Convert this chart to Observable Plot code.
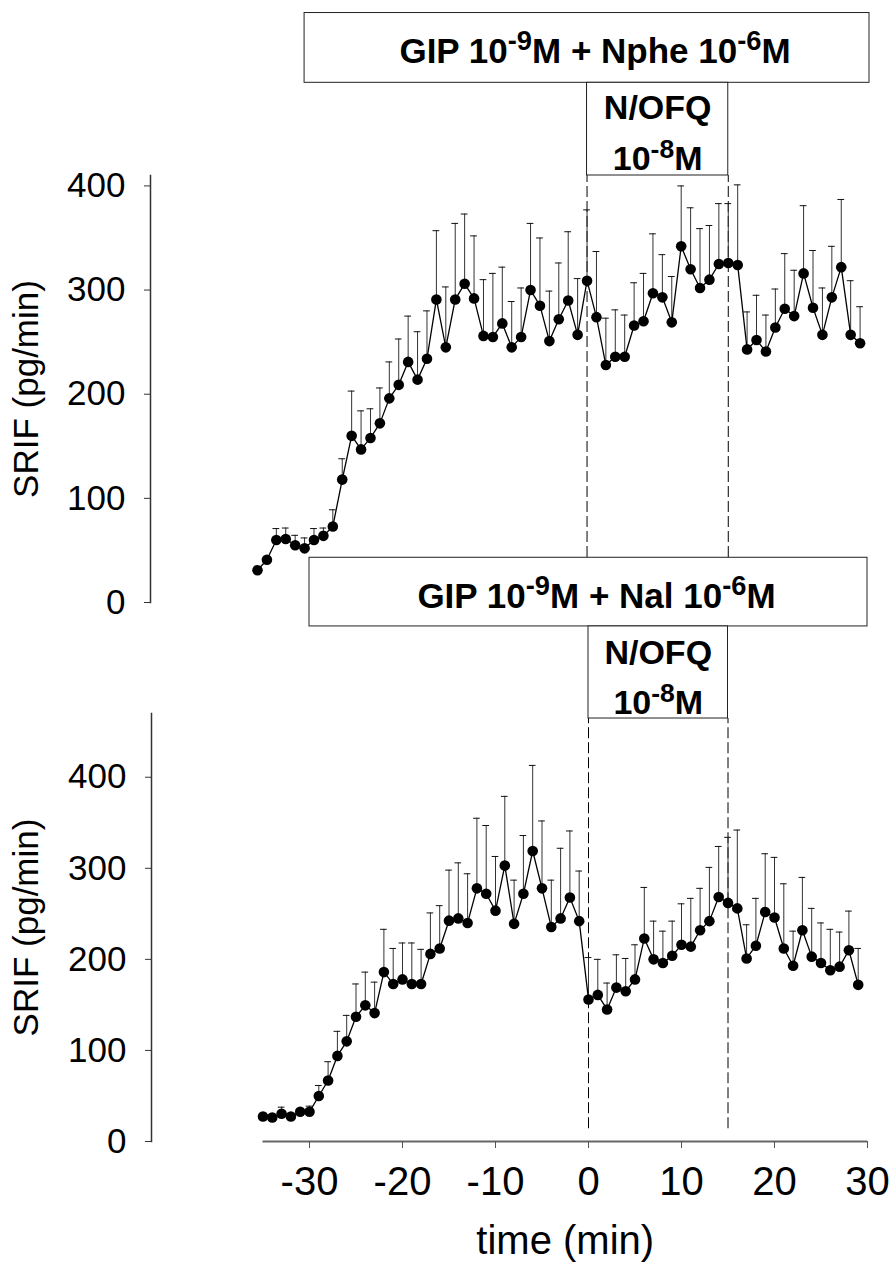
<!DOCTYPE html>
<html><head><meta charset="utf-8">
<script src="https://cdn.jsdelivr.net/npm/d3@7"></script>
<script src="https://cdn.jsdelivr.net/npm/@observablehq/plot@0.6"></script>
<style>
body{margin:0;background:#fff;}
#chart{position:relative;width:893px;height:1275px;}
#chart svg{position:absolute;left:0;top:0;background:transparent;overflow:visible;}
</style></head><body><div id="chart"></div>
<script>
// ---- data ----
const times = [-35,-34,-33,-32,-31,-30,-29,-28,-27,-26,-25,-24,-23,-22,-21,-20,-19,-18,-17,-16,-15,-14,-13,-12,-11,-10,-9,-8,-7,-6,-5,-4,-3,-2,-1,0,1,2,3,4,5,6,7,8,9,10,11,12,13,14,15,16,17,18,19,20,21,22,23,24,25,26,27,28,29];
const nphMean = [31,41,60,61,55,52,60,64,73,118,160,147,158,172,196,209,231,214,234,291,245,291,306,292,256,255,268,245,255,300,285,251,272,290,257,309,274,228,236,236,266,270,297,293,269,342,320,302,310,325,326,324,243,252,241,264,282,275,316,283,257,293,322,257,249];
const nphUpper = [33,43,71,71.5,64.5,62,71,71.5,89,138,203,184,186,206,231,253,275,260,280,357,303,364,373,352,310,316,322,289,302,364,350,299,326,356,311,377,337,273,281,276,307,316,354,334,313,400,379,359,362,383,383,401,279,295,276,301,335,319,381,338,302,342,387,309,284];
const nalMean = [27.5,26.4,30.4,27.5,32.6,32.6,50,67,94,110,137,149.5,141,186,173,178,173,173,206,212,242.5,245,240,278,272,253.5,303,239,272,319,278,235.5,245,268,242,156,161,145,169,165,178,223,200,196,204,216,214,232,242,268.5,262,256,201,215,252,246,212,193,232,203,196,188,192,210,172];
const nalUpper = [29,28,37.7,29.5,35,38.8,61.5,87.6,121,138.5,173,186,175,233,212,218,218,211,251,259,298,306,294,355,347,313,379,287,336,413,352,287,322,341,297,202,200,174,205,201,216,279,242,231,242,261,267,278,301,324,334,342,238,267,316,312,283,231,290,256,240,233,230,253,212];
const yTicks = [0,100,200,300,400];
const xTicks = [-30,-20,-10,0,10,20,30];
const gipPeriod = [-30, 30];
const nofqPeriod = [0, 15];
const panelTitles = ["GIP 10{-9}M + Nphe 10{-6}M", "GIP 10{-9}M + Nal 10{-6}M"];
const nofqLines = ["N/OFQ", "10{-8}M"];
const yLabel = "SRIF (pg/min)";
const xLabel = "time (min)";

const FONT = "'Liberation Sans', Arial, Helvetica, sans-serif";

function panel(cfg) {
  const data = times.map((t, i) => ({t, mean: cfg.mean[i], upper: cfg.upper[i]}));
  const mid = (nofqPeriod[0] + nofqPeriod[1]) / 2;
  const gipMid = (gipPeriod[0] + gipPeriod[1]) / 2;
  const boxes = [
    {x1: gipPeriod[0], x2: gipPeriod[1], y1: cfg.titleBox[0], y2: cfg.titleBox[1]},
    {x1: nofqPeriod[0], x2: nofqPeriod[1], y1: cfg.nofqBox[0], y2: cfg.nofqBox[1]}
  ];
  const marks = [
    Plot.ruleX(nofqPeriod, {y1: cfg.dash[0], y2: cfg.dash[1], stroke: "#000", strokeWidth: 1, strokeDasharray: "11,4"}),
    Plot.rect(boxes, {x1: "x1", x2: "x2", y1: "y1", y2: "y2", fill: "white", stroke: "#222", strokeWidth: 1}),
    Plot.text([{t: gipMid, y: cfg.textY[0], s: cfg.title}], {x: "t", y: "y", text: "s", fontSize: 35, fontWeight: "bold", dx: 8, fill: "#000"}),
    Plot.text([{t: mid, y: cfg.textY[1], s: nofqLines[0]}, {t: mid, y: cfg.textY[2], s: nofqLines[1]}], {x: "t", y: "y", text: "s", fontSize: 34, fontWeight: "bold", fill: "#000"}),
    Plot.ruleX(data, {x: "t", y1: "mean", y2: "upper", stroke: "#333", strokeWidth: 1}),
    Plot.ruleY(data, {y: "upper", x1: d => d.t - 0.36, x2: d => d.t + 0.36, stroke: "#111", strokeWidth: 1}),
    Plot.line(data, {x: "t", y: "mean", stroke: "#000", strokeWidth: 1.3}),
    Plot.dot(data, {x: "t", y: "mean", r: 5.3, fill: "#000", stroke: "none"}),
    Plot.frame({anchor: "left", stroke: "#333", strokeWidth: 1.5}),
    Plot.axisY({ticks: yTicks, tickSize: 6, tickPadding: 19, fontSize: 35, stroke: "#333", fill: "#000",
      label: yLabel, labelAnchor: "center", labelOffset: cfg.labelOffset, labelArrow: "none", tickFormat: d => String(d)})
  ];
  if (cfg.showX) {
    marks.push(
      Plot.ruleY([0], {x1: times[0], x2: xTicks[xTicks.length - 1], stroke: "#666", strokeWidth: 2}),
      Plot.axisX({ticks: xTicks, tickSize: 7, tickPadding: 18, fontSize: 40, stroke: "#555", fill: "#000", label: null, tickFormat: d => String(d)}),
      Plot.text([{t: (times[0] + xTicks[xTicks.length - 1]) / 2, s: xLabel}], {x: "t", text: "s", frameAnchor: "bottom", dy: 112, fontSize: 40, fill: "#000"})
    );
  }
  const svg = Plot.plot({
    width: 893, height: 1275,
    marginTop: cfg.marginTop, marginBottom: cfg.marginBottom,
    marginLeft: cfg.marginLeft, marginRight: cfg.marginRight,
    style: {fontFamily: FONT, background: "transparent"},
    x: {domain: [times[0], xTicks[xTicks.length - 1]], range: cfg.xRange, axis: cfg.showX ? undefined : null},
    y: {domain: cfg.yDomain},
    marks
  });
  svg.style.background = "transparent";
  return svg;
}

function applySuperscripts(svg) {
  svg.querySelectorAll("text").forEach(t => {
    if (t.childElementCount || !t.textContent.includes("{")) return;
    const parts = t.textContent.split(/(\{[^}]*\})/).filter(s => s);
    t.textContent = "";
    let raised = false;
    for (const p of parts) {
      const ts = document.createElementNS("http://www.w3.org/2000/svg", "tspan");
      if (p.startsWith("{")) {
        ts.textContent = p.slice(1, -1);
        ts.style.fontSize = "78%";
        ts.setAttribute("dy", "-0.45em");
        raised = true;
      } else {
        ts.textContent = p;
        if (raised) ts.setAttribute("dy", "0.35em");
        raised = false;
      }
      t.appendChild(ts);
    }
  });
}

const topPanel = panel({
  mean: nphMean, upper: nphUpper, title: panelTitles[0],
  marginTop: 175, marginBottom: 673, marginLeft: 150, marginRight: 24,
  xRange: [257, 869], yDomain: [0, 410],
  titleBox: [499, 566], nofqBox: [410, 499], textY: [529, 475, 426],
  dash: [0, 410], labelOffset: 137, showX: false
});
const bottomPanel = panel({
  mean: nalMean, upper: nalUpper, title: panelTitles[1],
  marginTop: 713, marginBottom: 134, marginLeft: 151, marginRight: 26,
  xRange: [262.5, 867], yDomain: [0, 470],
  titleBox: [565.6, 641], nofqBox: [464.5, 565.6], textY: [598.5, 536, 481],
  dash: [14, 464.5], labelOffset: 138, showX: true
});
const chart = document.getElementById("chart");
chart.appendChild(topPanel);
chart.appendChild(bottomPanel);
applySuperscripts(topPanel);
applySuperscripts(bottomPanel);
</script>
</body></html>
